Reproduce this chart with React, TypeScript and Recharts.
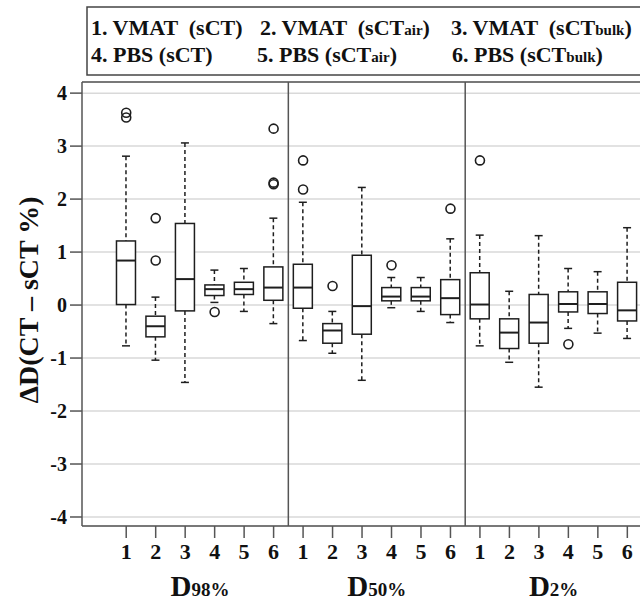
import { ComposedChart, Bar, Scatter, XAxis, YAxis, CartesianGrid, ReferenceLine } from "recharts"

// box positions 1..18, three panels of six plans
const positions = [1, 2, 3, 4, 5, 6, 7, 8, 9, 10, 11, 12, 13, 14, 15, 16, 17, 18]
const tickLabels = ["1", "2", "3", "4", "5", "6", "1", "2", "3", "4", "5", "6", "1", "2", "3", "4", "5", "6"]

const whiskerLow = [-0.77, -1.04, -1.46, 0.05, -0.12, -0.35, -0.67, -0.91, -1.42, -0.05, -0.12, -0.33, -0.77, -1.08, -1.55, -0.44, -0.53, -0.63]
const q1 = [0.01, -0.6, -0.11, 0.18, 0.2, 0.09, -0.06, -0.72, -0.55, 0.08, 0.08, -0.18, -0.26, -0.82, -0.72, -0.13, -0.16, -0.3]
const median = [0.84, -0.4, 0.49, 0.3, 0.3, 0.33, 0.33, -0.48, -0.02, 0.16, 0.16, 0.13, 0.01, -0.52, -0.33, 0.02, 0.02, -0.1]
const q3 = [1.21, -0.21, 1.54, 0.38, 0.43, 0.72, 0.77, -0.35, 0.94, 0.33, 0.33, 0.48, 0.61, -0.26, 0.2, 0.25, 0.25, 0.43]
const whiskerHigh = [2.81, 0.15, 3.06, 0.66, 0.69, 1.64, 1.94, -0.12, 2.22, 0.52, 0.52, 1.25, 1.32, 0.26, 1.31, 0.69, 0.63, 1.46]
const outliers = [
  [3.54, 3.63], [0.84, 1.64], [], [-0.13], [], [2.28, 2.31, 3.33],
  [2.18, 2.73], [0.36], [], [0.75], [], [1.82],
  [2.73], [], [], [-0.74], [], [],
]

const groupCenters = [3.5, 9.5, 15.5]
const groupNames = ["98%", "50%", "2%"]

const legendMain = ["1. VMAT  (sCT", "2. VMAT  (sCT", "3. VMAT  (sCT", "4. PBS (sCT", "5. PBS (sCT", "6. PBS (sCT"]
const legendSub = ["", "air", "bulk", "", "air", "bulk"]

const yTicks = [-4, -3, -2, -1, 0, 1, 2, 3, 4]
const Y_DOMAIN = [-4.17, 4.21]
const X_DOMAIN = [-0.5, 18.43]

const SERIF = "Liberation Serif, Times New Roman, Times, serif"
const INK = "#1e1e1e"

const boxData = positions.map((pos, i) => ({
  pos,
  range: [whiskerLow[i], whiskerHigh[i]],
  low: whiskerLow[i],
  q1: q1[i],
  med: median[i],
  q3: q3[i],
  high: whiskerHigh[i],
}))

const outlierData = positions.flatMap((pos, i) => outliers[i].map((value) => ({ pos, value })))

function BoxShape(props: any) {
  const { x, y, width, height, payload } = props
  if (!payload) return null
  const top = Math.min(y, y + height)
  const h = Math.abs(height)
  const ppu = h / (payload.high - payload.low)
  const toPx = (v: number) => top + (payload.high - v) * ppu
  const cx = x + width / 2
  const yHigh = toPx(payload.high)
  const yLow = toPx(payload.low)
  const yQ3 = toPx(payload.q3)
  const yQ1 = toPx(payload.q1)
  const yMed = toPx(payload.med)
  return (
    <g>
      <line x1={cx} x2={cx} y1={yHigh} y2={yQ3} stroke={INK} strokeWidth={1.5} strokeDasharray="4 3" />
      <line x1={cx} x2={cx} y1={yQ1} y2={yLow} stroke={INK} strokeWidth={1.5} strokeDasharray="4 3" />
      <line x1={cx - 4} x2={cx + 4} y1={yHigh} y2={yHigh} stroke={INK} strokeWidth={1.5} />
      <line x1={cx - 4} x2={cx + 4} y1={yLow} y2={yLow} stroke={INK} strokeWidth={1.5} />
      <rect x={x} y={yQ3} width={width} height={yQ1 - yQ3} fill="#fff" stroke={INK} strokeWidth={1.5} />
      <line x1={x} x2={x + width} y1={yMed} y2={yMed} stroke={INK} strokeWidth={2} />
    </g>
  )
}

function OutlierShape(props: any) {
  const { cx, cy } = props
  return <circle cx={cx} cy={cy} r={4.5} fill="none" stroke={INK} strokeWidth={1.6} />
}

function NumTick(props: any) {
  const { x, y, payload, anchor, size, dy } = props
  return (
    <text x={x} y={y} dy={dy} textAnchor={anchor} style={{ fontFamily: SERIF, fontWeight: "bold", fontSize: size }} fill="#111">
      {props.formatter ? props.formatter(payload.value) : payload.value}
    </text>
  )
}

function GroupTick(props: any) {
  const { x, y, payload } = props
  const idx = groupCenters.indexOf(payload.value)
  return (
    <text x={x} y={y + 30} textAnchor="middle" style={{ fontFamily: SERIF, fontWeight: "bold" }} fill="#111">
      <tspan style={{ fontSize: 29 }}>D</tspan>
      <tspan style={{ fontSize: 19 }}>{groupNames[idx]}</tspan>
    </text>
  )
}

function YLabel(props: any) {
  const { viewBox } = props
  const cx = 28
  const cy = viewBox.y + viewBox.height / 2 - 4
  return (
    <text
      x={cx}
      y={cy}
      transform={`rotate(-90, ${cx}, ${cy})`}
      textAnchor="middle"
      dominantBaseline="central"
      style={{ fontFamily: SERIF, fontWeight: "bold", fontSize: 28 }}
      fill="#111"
    >
      ΔD(CT – sCT %)
    </text>
  )
}

function LegendBox() {
  const rows = [35, 62]
  const cols = [[91, 260, 451], [91, 257, 452]]
  return (
    <svg width={640} height={80} style={{ position: "absolute", left: 0, top: 0 }}>
      <rect x={87} y={7} width={570} height={68} fill="#fff" stroke="#444" strokeWidth={1.5} />
      {legendMain.map((txt, i) => {
        const r = Math.floor(i / 3)
        const c = i % 3
        return (
          <text
            key={i}
            x={cols[r][c]}
            y={rows[r]}
            fill="#111"
            style={{ fontFamily: SERIF, fontWeight: "bold", fontSize: 22, whiteSpace: "pre" }}
          >
            {txt}
            {legendSub[i] ? <tspan style={{ fontSize: 15 }}>{legendSub[i]}</tspan> : null}
            <tspan style={{ fontSize: 22 }}>)</tspan>
          </text>
        )
      })}
    </svg>
  )
}

export default function App() {
  return (
    <div style={{ position: "absolute", left: 0, top: 0, width: 640, height: 602, background: "#fff", fontFamily: SERIF }}>
      <ComposedChart width={640} height={602} data={boxData} margin={{ top: 82, right: 0, bottom: 0, left: 0 }}>
        <CartesianGrid horizontal vertical={false} stroke="#d9d9d9" strokeWidth={1.5} />
        <XAxis
          dataKey="pos"
          type="number"
          domain={X_DOMAIN}
          ticks={positions}
          interval={0}
          allowDataOverflow
          height={40}
          tickSize={12}
          tickMargin={4}
          stroke="#555"
          strokeWidth={1.5}
          tick={<NumTick anchor="middle" size={22} dy={17} formatter={(v: number) => tickLabels[v - 1]} />}
        />
        <XAxis
          xAxisId="grp"
          dataKey="pos"
          type="number"
          domain={X_DOMAIN}
          ticks={groupCenters}
          interval={0}
          allowDataOverflow
          height={36}
          axisLine={false}
          tickLine={false}
          tickSize={0}
          tickMargin={0}
          tick={<GroupTick />}
        />
        <YAxis
          type="number"
          domain={Y_DOMAIN}
          ticks={yTicks}
          interval={0}
          allowDataOverflow
          width={82}
          tickSize={12}
          tickMargin={3}
          stroke="#555"
          strokeWidth={1.5}
          tick={<NumTick anchor="end" size={20} dy={7} />}
          label={{ content: <YLabel /> }}
        />
        <ReferenceLine y={Y_DOMAIN[1]} stroke="#555" strokeWidth={1.5} />
        <ReferenceLine x={6.5} stroke="#555" strokeWidth={1.5} />
        <ReferenceLine x={12.5} stroke="#555" strokeWidth={1.5} />
        <Bar dataKey="range" barSize={19} shape={<BoxShape />} isAnimationActive={false} />
        <Scatter data={outlierData} dataKey="value" shape={<OutlierShape />} isAnimationActive={false} />
      </ComposedChart>
      <LegendBox />
    </div>
  )
}
